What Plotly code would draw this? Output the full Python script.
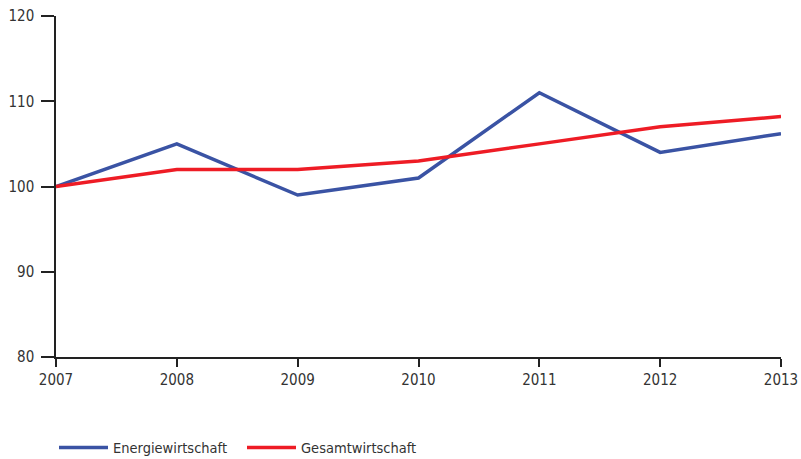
import plotly.graph_objects as go

years = [2007, 2008, 2009, 2010, 2011, 2012, 2013]
energie = [100, 105, 99, 101, 111, 104, 106.2]
gesamt = [100, 102, 102, 103, 105, 107, 108.2]

FONT = "DejaVu Sans Condensed, Liberation Sans Narrow, sans-serif"

fig = go.Figure()
fig.add_trace(go.Scatter(x=years, y=energie, mode="lines", name="Energiewirtschaft",
                         line=dict(color="#3a53a4", width=3.5)))
fig.add_trace(go.Scatter(x=years, y=gesamt, mode="lines", name="Gesamtwirtschaft",
                         line=dict(color="#ee1c25", width=3.5)))

fig.update_layout(
    width=801, height=459,
    margin=dict(l=56, r=20, t=16, b=102, autoexpand=False),
    plot_bgcolor="white", paper_bgcolor="white",
    font=dict(family=FONT, size=15, color="#333333"),
    showlegend=True,
    legend=dict(orientation="h", x=-2/725, xanchor="left", y=-0.219, yanchor="top",
                font=dict(family=FONT, size=14.5, color="#333333"),
                itemwidth=49, tracegroupgap=0,
                entrywidth=124, entrywidthmode="pixels"),
    xaxis=dict(range=[2007, 2013], tickvals=years, ticktext=[str(y) for y in years],
               showgrid=False, zeroline=False, showline=True, linecolor="#222222",
               linewidth=1.5, ticks="outside", ticklen=8, tickcolor="#222222",
               tickwidth=1.5, automargin=False,
               tickfont=dict(family=FONT, size=15, color="#333333")),
    yaxis=dict(range=[80, 120], tickvals=[80, 90, 100, 110, 120],
               showgrid=False, zeroline=False, showline=True, linecolor="#222222",
               linewidth=1.5, ticks="outside", ticklen=13, tickcolor="#222222",
               tickwidth=1.5, ticklabelstandoff=4, automargin=False,
               tickfont=dict(family=FONT, size=15, color="#333333")),
)

fig.write_html("out.html", config={"displayModeBar": False},
               post_script="document.body.style.margin='0';")
